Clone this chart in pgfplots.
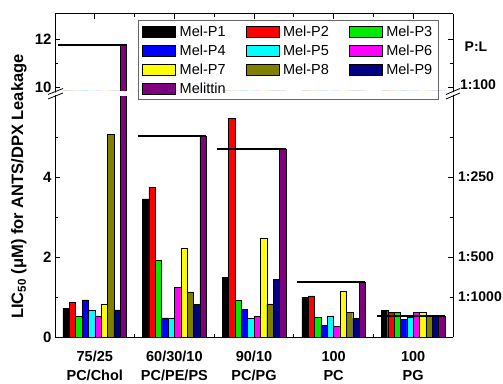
\documentclass[border=0pt]{standalone}
\usepackage{fontspec}
\setmainfont{Liberation Sans}
\usepackage{pgfplots}
\pgfplotsset{compat=1.18}
\usepackage{pgfplotstable}

\definecolor{cP1}{RGB}{0,0,0}
\definecolor{cP2}{RGB}{255,0,0}
\definecolor{cP3}{RGB}{0,235,0}
\definecolor{cP4}{RGB}{0,0,255}
\definecolor{cP5}{RGB}{0,255,255}
\definecolor{cP6}{RGB}{255,0,255}
\definecolor{cP7}{RGB}{255,255,0}
\definecolor{cP8}{RGB}{128,128,0}
\definecolor{cP9}{RGB}{0,0,128}
\definecolor{cMel}{RGB}{128,0,128}

\pgfplotstableread{
x P1 P2 P3 P4 P5 P6 P7 P8 P9 Mel
1 0.72 0.86 0.51 0.93 0.68 0.53 0.82 5.07 0.68 11.76
2 3.45 3.74 1.91 0.48 0.48 1.24 2.22 1.13 0.81 5.02
3 1.49 5.47 0.91 0.69 0.47 0.51 2.47 0.83 1.44 4.69
4 0.99 1.03 0.49 0.30 0.53 0.27 1.15 0.61 0.47 1.38
5 0.67 0.61 0.62 0.44 0.49 0.62 0.62 0.53 0.53 0.53
}\data

\pgfplotsset{
  bars/.style 2 args={ybar, bar width=0.08, bar shift=#2, fill=#1, draw=black, line width=0.4pt,
    legend image code/.code={\draw[##1] (0pt,-5.5pt) rectangle (33pt,5.5pt);}},
  refline/.style={sharp plot, black, line width=1.8pt, mark=none, forget plot},
  common/.style={
    scale only axis, width=398pt,
    xmin=0.5, xmax=5.5,
    axis y line*=box,
    axis line style={line width=1pt},
    every tick/.style={black, line width=0.8pt},
    tick align=inside,
    major tick length=5pt, minor tick length=3pt,
    /pgf/number format/assume math mode=true,
    yticklabel style={font=\bfseries\fontsize{15}{15}\selectfont},
  },
}

\begin{document}
\begin{tikzpicture}
\useasboundingbox (0pt,0pt) rectangle (503pt,383pt);

% lower axis
\begin{axis}[common,
  name=lower, at={(55pt,46pt)}, anchor=south west, height=240pt,
  ymin=0, ymax=6,
  axis x line*=bottom,
  xtick={1,2,3,4,5},
  major x tick style={draw=none},
  minor xtick={1.5,2.5,3.5,4.5},
  xticklabels={{75/25\\PC/Chol},{60/30/10\\PC/PE/PS},{90/10\\PC/PG},{100\\PC},{100\\PG}},
  xticklabel style={align=center, font=\bfseries\fontsize{14.5}{19}\selectfont, inner sep=0pt, yshift=-14pt},
  ytick={0,2,4}, minor ytick={1,3,5},
  legend columns=3,
  legend cell align=left,
  legend style={at={(0.2085,1.32)}, anchor=north west, draw=black!60, line width=0.6pt, fill=white,
    font=\fontsize{14.5}{16}\selectfont,
    /tikz/every odd column/.append style={column sep=2pt},
    /tikz/every even column/.append style={column sep=18pt},
    row sep=3pt,
    inner xsep=4pt, inner ysep=3pt},
]
\addplot[bars={cP1}{-0.36}] table[x=x,y=P1]{\data};
\addplot[bars={cP2}{-0.28}] table[x=x,y=P2]{\data};
\addplot[bars={cP3}{-0.20}] table[x=x,y=P3]{\data};
\addplot[bars={cP4}{-0.12}] table[x=x,y=P4]{\data};
\addplot[bars={cP5}{-0.04}] table[x=x,y=P5]{\data};
\addplot[bars={cP6}{0.04}] table[x=x,y=P6]{\data};
\addplot[bars={cP7}{0.12}] table[x=x,y=P7]{\data};
\addplot[bars={cP8}{0.20}] table[x=x,y=P8]{\data};
\addplot[bars={cP9}{0.28}] table[x=x,y=P9]{\data};
\addplot[bars={cMel}{0.36}] table[x=x,y=Mel]{\data};
\legend{Mel-P1,Mel-P2,Mel-P3,Mel-P4,Mel-P5,Mel-P6,Mel-P7,Mel-P8,Mel-P9,Melittin}
\addplot[refline] coordinates {(1.54,5.02) (2.40,5.02)};
\addplot[refline] coordinates {(2.54,4.69) (3.40,4.69)};
\addplot[refline] coordinates {(3.54,1.38) (4.40,1.38)};
\addplot[refline] coordinates {(4.54,0.53) (5.40,0.53)};
\end{axis}

% upper axis
\begin{axis}[common,
  name=upper, at={(55pt,292pt)}, anchor=south west, height=77pt,
  ymin=9.85, ymax=13.045,
  axis x line*=top,
  xtick={1,2,3,4,5}, xticklabels={},
  minor xtick={1.5,2.5,3.5,4.5},
  ytick={10,12}, minor ytick={11},
]
\addplot[bars={cP1}{-0.36}] table[x=x,y=P1]{\data};
\addplot[bars={cP2}{-0.28}] table[x=x,y=P2]{\data};
\addplot[bars={cP3}{-0.20}] table[x=x,y=P3]{\data};
\addplot[bars={cP4}{-0.12}] table[x=x,y=P4]{\data};
\addplot[bars={cP5}{-0.04}] table[x=x,y=P5]{\data};
\addplot[bars={cP6}{0.04}] table[x=x,y=P6]{\data};
\addplot[bars={cP7}{0.12}] table[x=x,y=P7]{\data};
\addplot[bars={cP8}{0.20}] table[x=x,y=P8]{\data};
\addplot[bars={cP9}{0.28}] table[x=x,y=P9]{\data};
\addplot[bars={cMel}{0.36}] table[x=x,y=Mel]{\data};
\addplot[refline] coordinates {(0.54,11.76) (1.40,11.76)};
\end{axis}

% axis break connectors and marks
\draw[line width=1pt] (55pt,286pt) -- (55pt,292pt);
\draw[line width=1pt] (453pt,286pt) -- (453pt,292pt);
\fill[white] (48pt,285pt) -- (63pt,291pt) -- (63pt,293.5pt) -- (48pt,287.5pt) -- cycle;
\draw[line width=0.8pt] (48pt,284pt) -- (63pt,290pt);
\draw[line width=0.8pt] (48pt,288.5pt) -- (63pt,294.5pt);
\fill[white] (446pt,285pt) -- (460pt,291pt) -- (460pt,293.5pt) -- (446pt,287.5pt) -- cycle;
\draw[line width=0.8pt] (446pt,284pt) -- (460pt,290pt);
\draw[line width=0.8pt] (446pt,288.5pt) -- (460pt,294.5pt);

% y label
\node[rotate=90, font=\bfseries\fontsize{16.5}{18}\selectfont] at (19pt,196.5pt)
  {LIC\textsubscript{50} (μM) for ANTS/DPX Leakage};

% P:L labels on the right
\begin{scope}[every node/.style={anchor=west, font=\bfseries\fontsize{14}{16}\selectfont, inner sep=0pt}]
\node at (458pt,86pt) {1:1000};
\node at (458pt,126pt) {1:500};
\node at (458pt,206pt) {1:250};
\node at (460pt,298pt) {1:100};
\node[anchor=center] at (476pt,336pt) {P:L};
\end{scope}
\end{tikzpicture}
\end{document}
